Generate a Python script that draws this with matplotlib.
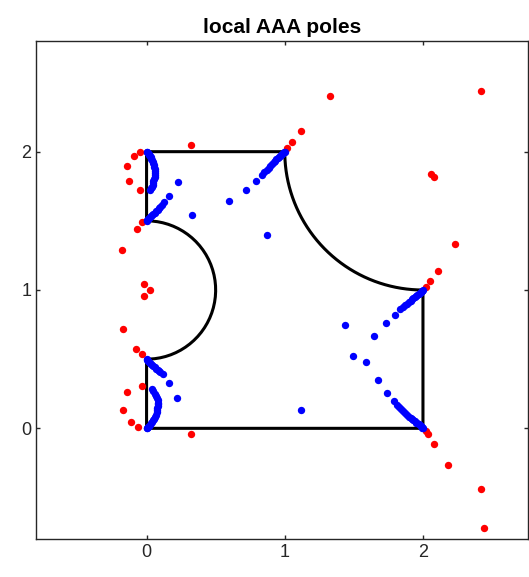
import numpy as np
import matplotlib
matplotlib.use('Agg')
import matplotlib.pyplot as plt

plt.rcParams['font.family'] = ['Liberation Sans', 'DejaVu Sans']

# poles outside the domain
red_x = [-0.05, -0.09, -0.14, -0.125, -0.05, -0.035, -0.07, -0.175, 0.32,
         -0.02, 0.025, -0.02, -0.17,
         -0.08, -0.035, -0.035, -0.14, -0.17, -0.115, -0.06, 0.32,
         1.016, 1.05, 1.117, 1.33,
         2.02, 2.05, 2.11, 2.23, 2.06, 2.08, 2.42,
         2.02, 2.04, 2.08, 2.18, 2.42, 2.44]
red_y = [2.0, 1.97, 1.90, 1.79, 1.72, 1.49, 1.44, 1.29, 2.045,
         1.045, 1.0, 0.96, 0.715,
         0.575, 0.535, 0.305, 0.26, 0.13, 0.045, 0.01, -0.04,
         2.027, 2.067, 2.147, 2.40,
         1.02, 1.064, 1.136, 1.33, 1.84, 1.82, 2.44,
         -0.02, -0.04, -0.115, -0.265, -0.44, -0.724]

# poles inside the domain
blue_x = [0.0, 0.005, 0.01, 0.015, 0.02, 0.025, 0.03, 0.035, 0.04, 0.045, 0.05, 0.053,
          0.055, 0.058, 0.06, 0.06, 0.06, 0.058, 0.055, 0.05, 0.048, 0.044, 0.04, 0.032, 0.025,
          0.0, 0.005, 0.01, 0.018, 0.025, 0.032, 0.04, 0.05, 0.06, 0.07, 0.08, 0.09, 0.10,
          0.113, 0.127, 0.165, 0.23, 0.327,
          0.0, 0.005, 0.01, 0.018, 0.025, 0.032, 0.04, 0.05, 0.06, 0.07, 0.08, 0.09, 0.10,
          0.117, 0.165, 0.223,
          0.0, 0.005, 0.01, 0.018, 0.025, 0.032, 0.04, 0.048, 0.055, 0.062, 0.068, 0.072,
          0.075, 0.078, 0.08, 0.083, 0.085, 0.08, 0.075, 0.068, 0.06, 0.05, 0.04,
          1.0, 0.995, 0.99, 0.983, 0.975, 0.968, 0.96, 0.95, 0.94, 0.93, 0.92, 0.908, 0.895,
          0.883, 0.87, 0.853, 0.835, 0.79, 0.72, 0.598,
          0.875, 1.12,
          2.0, 1.995, 1.99, 1.983, 1.975, 1.968, 1.96, 1.95, 1.94, 1.93, 1.92, 1.91, 1.9,
          1.885, 1.87, 1.853, 1.837, 1.796, 1.736, 1.643, 1.438,
          2.0, 1.995, 1.99, 1.983, 1.975, 1.968, 1.96, 1.95, 1.94, 1.93, 1.92, 1.91, 1.9,
          1.885, 1.87, 1.855, 1.84, 1.825, 1.81, 1.788, 1.74, 1.675, 1.59, 1.494]
blue_y = [2.0, 1.995, 1.99, 1.983, 1.975, 1.968, 1.96, 1.95, 1.94, 1.928, 1.915, 1.903,
          1.89, 1.875, 1.86, 1.845, 1.83, 1.815, 1.80, 1.785, 1.77, 1.757, 1.745, 1.735, 1.725,
          1.5, 1.505, 1.51, 1.518, 1.525, 1.533, 1.54, 1.55, 1.56, 1.57, 1.58, 1.59, 1.60,
          1.617, 1.634, 1.682, 1.78, 1.54,
          0.5, 0.495, 0.49, 0.482, 0.475, 0.468, 0.46, 0.45, 0.44, 0.432, 0.425, 0.415, 0.405,
          0.39, 0.33, 0.22,
          0.0, 0.005, 0.01, 0.018, 0.025, 0.035, 0.045, 0.057, 0.07, 0.085, 0.10, 0.115,
          0.13, 0.145, 0.16, 0.173, 0.186, 0.203, 0.22, 0.235, 0.25, 0.268, 0.286,
          2.0, 1.995, 1.99, 1.984, 1.978, 1.971, 1.965, 1.955, 1.945, 1.935, 1.925, 1.913, 1.90,
          1.885, 1.87, 1.852, 1.834, 1.79, 1.726, 1.641,
          1.40, 0.13,
          1.0, 0.995, 0.99, 0.984, 0.978, 0.971, 0.965, 0.958, 0.95, 0.941, 0.933, 0.924, 0.915,
          0.902, 0.89, 0.877, 0.864, 0.816, 0.763, 0.671, 0.744,
          0.0, 0.005, 0.01, 0.016, 0.022, 0.028, 0.035, 0.042, 0.05, 0.059, 0.068, 0.076, 0.085,
          0.097, 0.11, 0.125, 0.14, 0.155, 0.17, 0.197, 0.258, 0.347, 0.48, 0.522]

ticks = [0, 1, 2]

# domain boundary: bottom edge, right edge, concave arc, top edge, left side with semicircle
t1 = np.linspace(-np.pi / 2, -np.pi, 80)
arc_big = (2 + np.cos(t1), 2 + np.sin(t1))
t2 = np.linspace(np.pi / 2, -np.pi / 2, 80)
arc_small = (0.5 * np.cos(t2), 1 + 0.5 * np.sin(t2))
bx = np.concatenate([[0, 2, 2], arc_big[0], [0, 0], arc_small[0], [0, 0]])
by = np.concatenate([[0, 0, 1], arc_big[1], [2, 1.5], arc_small[1], [0.5, 0]])

fig = plt.figure(figsize=(5.29, 5.77), dpi=100)
ax = fig.add_axes([36 / 529, 38 / 577, 492 / 529, 498 / 577])

ax.plot(bx, by, color='black', lw=2.2, zorder=2)
ax.plot(red_x, red_y, 'o', color='red', ms=5.3, mec='none', zorder=3)
ax.plot(blue_x, blue_y, 'o', color='blue', ms=5.3, mec='none', zorder=4)

ax.set_xlim(-0.8, 2.76)
ax.set_ylim(-0.8, 2.8)
ax.set_xticks(ticks)
ax.set_yticks(ticks)
ax.tick_params(direction='in', length=3, width=1, colors='#262626', labelsize=13,
               top=True, right=True)
for s in ax.spines.values():
    s.set_color('#262626')
    s.set_linewidth(1)
ax.set_title('local AAA poles', fontsize=15, fontweight='bold', pad=6)

fig.savefig('out.png', dpi=100)
